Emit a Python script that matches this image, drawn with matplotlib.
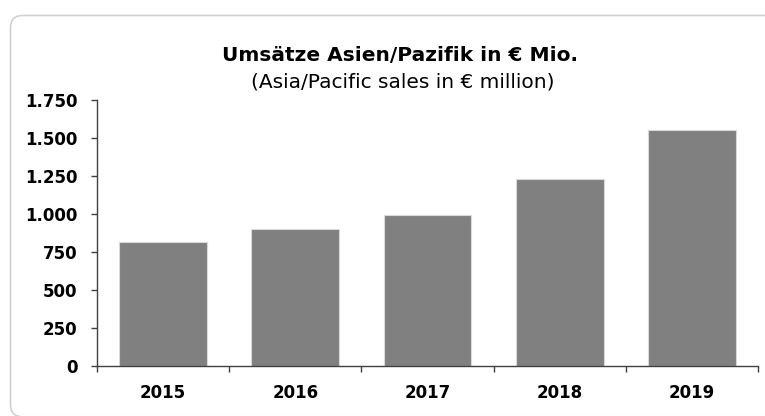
import matplotlib
matplotlib.use("Agg")
import matplotlib.pyplot as plt
from matplotlib.patches import FancyBboxPatch
from matplotlib.ticker import FuncFormatter

years = ["2015", "2016", "2017", "2018", "2019"]
sales = [815, 901, 991, 1228, 1553]
yticks = [0, 250, 500, 750, 1000, 1250, 1500, 1750]
title = "Umsätze Asien/Pazifik in € Mio."
subtitle = "(Asia/Pacific sales in € million)"

W, H = 765, 416
fig = plt.figure(figsize=(W / 100, H / 100), dpi=100)

# rounded chart frame
frame = FancyBboxPatch((10.5 / W, -0.8 / H), (W + 20) / W, (H - 15.5 + 0.8) / H,
                       boxstyle="round,pad=0,rounding_size=0.016",
                       transform=fig.transFigure, facecolor="none",
                       edgecolor="#d0d0d0", linewidth=1.2, zorder=0,
                       mutation_aspect=W / H)
fig.patches.append(frame)

ax = fig.add_axes([97 / W, 1 - 366 / H, (758 - 97) / W, (366 - 100) / H])
ax.set_facecolor("none")
x = range(len(years))
ax.bar(x, sales, width=0.665, color="#808080", edgecolor="#d9d9d9",
       linewidth=0.8, zorder=2)
ax.set_xlim(-0.5, len(years) - 0.5)
ax.set_ylim(0, 1750)
ax.set_yticks(yticks)
ax.yaxis.set_major_formatter(FuncFormatter(lambda v, p: f"{int(v):,}".replace(",", ".")))
ax.set_xticks(x)
ax.set_xticklabels(years)
ax.set_xticks([i - 0.5 for i in range(len(years) + 1)], minor=True)
ax.tick_params(axis="x", which="major", length=0, pad=13)
ax.tick_params(axis="x", which="minor", length=4, width=1, color="#404040", direction="out")
ax.tick_params(axis="y", length=4, width=1, color="#404040", pad=10)
for lab in ax.get_xticklabels() + ax.get_yticklabels():
    lab.set_fontweight("bold")
    lab.set_fontsize(12)
for s in ["top", "right"]:
    ax.spines[s].set_visible(False)
for s in ["left", "bottom"]:
    ax.spines[s].set_color("#404040")
    ax.spines[s].set_linewidth(1)

fig.text(400 / W, 1 - 61 / H, title, ha="center", va="baseline",
         fontsize=14.5, fontweight="bold")
fig.text(403 / W, 1 - 88 / H, subtitle, ha="center", va="baseline",
         fontsize=14.5)

fig.savefig("out.png", dpi=100)
